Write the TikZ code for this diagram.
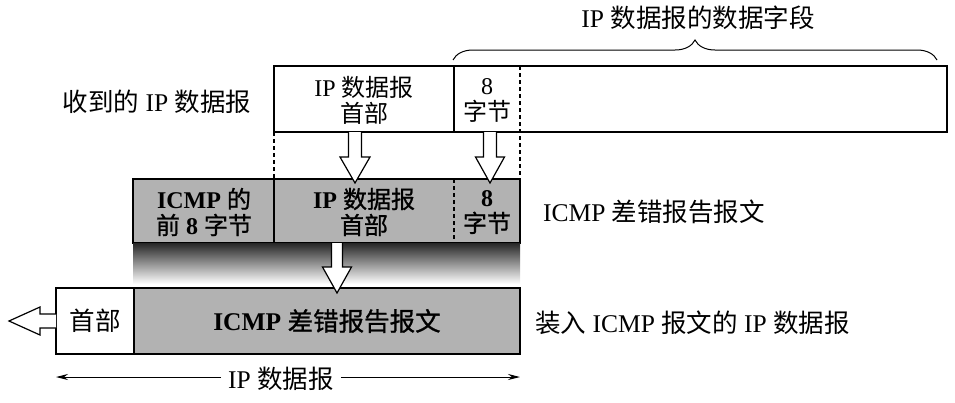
\documentclass[tikz,border=0pt]{standalone}
\usepackage{fontspec}
\setmainfont{Liberation Serif}
\newfontfamily\cjk{Noto Sans CJK SC}
\newfontfamily\cjkb[FakeBold=1]{Noto Sans CJK SC}
\newcommand\zh[1]{{\cjk #1}}
\newcommand\zhb[1]{{\cjkb\mdseries #1}}
\usetikzlibrary{arrows.meta,decorations.pathreplacing}
\newcommand\blockdown[5]{% x, ytop, ytip, half shaft, half head
  \draw[hollow] (#1-#4,#2) -- (#1-#4,#3-26) -- (#1-#5,#3-26) -- (#1,#3)
    -- (#1+#5,#3-26) -- (#1+#4,#3-26) -- (#1+#4,#2);}
\begin{document}
\begin{tikzpicture}[x=1pt,y=-1pt,
  font=\fontsize{25.5}{27}\selectfont,
  box/.style={draw, line width=1.2pt, outer sep=0pt, inner sep=0pt, anchor=north west},
  gfill/.style={fill=black!30},
  lbl/.style={inner sep=0pt, align=center},
  two/.style={lbl, font=\fontsize{24}{26}\selectfont},
  bl/.style={lbl, font=\fontsize{25.5}{27}\selectfont\bfseries},
  bltwo/.style={lbl, font=\fontsize{24}{26}\selectfont\bfseries},
  dline/.style={line width=1.2pt, dash pattern=on 4pt off 3pt},
  sline/.style={line width=1.2pt},
  hollow/.style={draw, line width=1.2pt, fill=white, line join=miter},
  dim/.style={line width=1pt, -{Stealth[length=12pt,width=6pt]}}]
\useasboundingbox (0,0) rectangle (955,402);

% title and brace
\node[lbl] (title) at (698,18) {IP \zh{数据报的数据字段}};
\coordinate (brl) at (453,60);
\coordinate (brr) at (937,60);
\draw[line width=1pt, decorate, decoration={brace, amplitude=20pt}] (brl) -- (brr);

% received IP datagram
\node[lbl] (recvlbl) at (157,102) {\zh{收到的} IP \zh{数据报}};
\node[box, minimum width=673pt, minimum height=66pt] (recv) at (274,66) {};
\node[two] (hdr) at (364,100) {IP \zh{数据报}\\\zh{首部}};
\node[two] (eight) at (487,100) {8\\\zh{字节}};
\coordinate (s1t) at (454,66);
\coordinate (s1b) at (454,132);
\draw[sline] (s1t) -- (s1b);

% dashed guides
\coordinate (d1t) at (520,66);
\coordinate (d1b) at (520,179);
\draw[dline] (d1t) -- (d1b);
\coordinate (d2t) at (274,132);
\coordinate (d2b) at (274,179);
\draw[dline] (d2t) -- (d2b);

% ICMP error message
\node[box, gfill, minimum width=387pt, minimum height=64pt] (icmp) at (133,179) {};
\coordinate (s2t) at (274,179);
\coordinate (s2b) at (274,243);
\draw[sline] (s2t) -- (s2b);
\coordinate (d3t) at (454,179);
\coordinate (d3b) at (454,243);
\draw[dline] (d3t) -- (d3b);
\node[bltwo] (icmp8) at (204,212) {ICMP \zhb{的}\\\zhb{前} 8 \zhb{字节}};
\node[bltwo] (hdr2) at (364,212) {IP \zhb{数据报}\\\zhb{首部}};
\node[bltwo] (eight2) at (487,212) {8\\\zhb{字节}};
\node[lbl, anchor=west] (icmplbl) at (543,212) {ICMP \zh{差错报告报文}};

% shadow
\shade[top color=black!85, bottom color=white] (133,243) rectangle (520,284);

% IP datagram carrying ICMP
\node[box, gfill, minimum width=386pt, minimum height=66pt] (body) at (134,288) {};
\node[box, fill=white, minimum width=78pt, minimum height=66pt] (head) at (56,288) {};
\node[lbl] (headtxt) at (95,321) {\zh{首部}};
\node[bl] (bodytxt) at (327,321) {ICMP \zhb{差错报告报文}};
\node[lbl, anchor=west] (carrylbl) at (535,323) {\zh{装入} ICMP \zh{报文的} IP \zh{数据报}};

% block arrows
\blockdown{355}{132}{183}{6.5}{15}
\blockdown{490}{132}{183}{6.5}{14.5}
\blockdown{337}{243}{293}{5.5}{14.5}
\draw[hollow] (56,314) -- (40,314) -- (40,307) -- (9,321) -- (40,335) -- (40,328) -- (56,328);

% dimension
\node[lbl, inner xsep=7pt] (dimlbl) at (281,379) {IP \zh{数据报}};
\coordinate (dl) at (56,377);
\coordinate (dr) at (520,377);
\draw[dim] (dl -| dimlbl.west) -- (dl);
\draw[dim] (dr -| dimlbl.east) -- (dr);
\end{tikzpicture}
\end{document}
